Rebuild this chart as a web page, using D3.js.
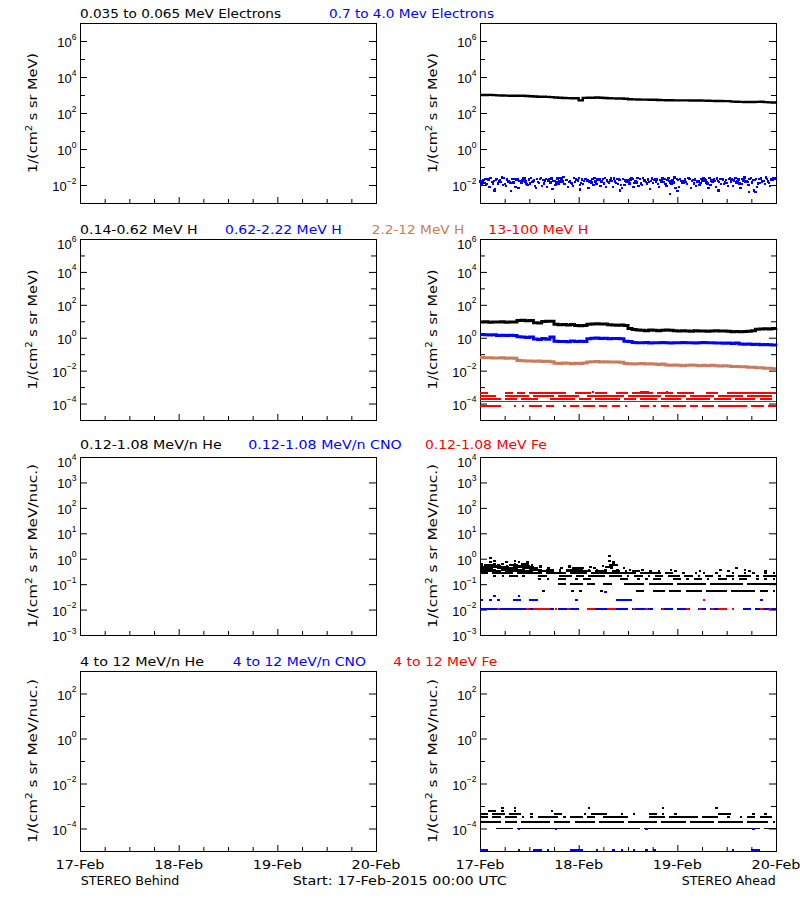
<!DOCTYPE html>
<html><head><meta charset="utf-8">
<script src="https://cdn.jsdelivr.net/npm/d3@7"></script>
<style>
body{margin:0;background:#fff}
svg{display:block}
text{font-family:"DejaVu Sans",sans-serif}
.num{font-family:"Liberation Sans",Arial,sans-serif}
</style>
</head><body>
<svg id="c" width="800" height="900"></svg>
<script>
// ---------------- DATA ----------------
const xTickHours = [0, 24, 48, 72];
const xTickLabels = ["17-Feb", "18-Feb", "19-Feb", "20-Feb"];
const xMinorHours = [6, 12, 18, 30, 36, 42, 54, 60, 66];

const titlesRow1 = ["0.035 to 0.065 MeV Electrons", "0.7 to 4.0 Mev Electrons"];
const titlesRow2 = ["0.14-0.62 MeV H", "0.62-2.22 MeV H", "2.2-12 MeV H", "13-100 MeV H"];
const titlesRow3 = ["0.12-1.08 MeV/n He", "0.12-1.08 MeV/n CNO", "0.12-1.08 MeV Fe"];
const titlesRow4 = ["4 to 12 MeV/n He", "4 to 12 MeV/n CNO", "4 to 12 MeV Fe"];
const seriesColors4 = ["#000000", "#0000ff", "#c87c5e", "#ff0000"];
const seriesColors3 = ["#000000", "#0000ff", "#ff0000"];

const yUnitsEnergy = "MeV)";
const yUnitsNuc = "MeV/nuc.)";
const footLeft = "STEREO Behind";
const footMid = "Start: 17-Feb-2015 00:00 UTC";
const footRight = "STEREO Ahead";

// Row 1 (Ahead) : 0.035-0.065 MeV electrons, hourly
const elecLow = [1000,1005,1010,990,950,930,920,915,910,905,900,880,860,
  820,800,795,790,760,720,700,680,670,660,655,
  500,
  690,700,710,720,700,680,665,650,645,640,620,
  580,570,560,555,550,545,540,530,520,515,510,505,
  500,500,500,498,495,492,490,480,470,465,460,458,455,
  430,420,415,410,408,405,415,425,400,390,380,375];
// 0.7-4.0 MeV electrons, four samples per hour
const elecHighA = [0.016,0.013,0.019,0.012,0.022,0.015,0.011,0.017,0.014,0.020,0.013,0.016,0.012,0.018,0.015,0.009,0.021,0.014,0.017,0.012,0.016,0.019,0.013,0.015,0.024,0.011,0.018,0.014,0.016,0.020,0.012,0.015,0.017,0.013,0.019,0.010,0.016,0.022,0.014,0.012,0.018,0.015,0.013,0.020,0.016,0.011,0.017,0.014,0.019,0.013,0.015,0.021,0.012,0.016,0.018,0.014,0.010,0.017,0.015,0.020,0.013,0.016,0.024,0.012,0.018,0.015,0.014,0.021,0.013,0.017,0.016,0.019];
const elecHighB = [0.010,0.021,0.008,0.017,0.012,0.026,0.009,0.014,0.022,0.007,0.018,0.011,0.025,0.009,0.013,0.019,0.008,0.023,0.010,0.016,0.027,0.008,0.012,0.020,0.010,0.017,0.007,0.022,0.011,0.009,0.025,0.013,0.008,0.021,0.010,0.018,0.012,0.008,0.024,0.010,0.015,0.006,0.019,0.011,0.023,0.009,0.014,0.026,0.008,0.017,0.011,0.007,0.020,0.010,0.025,0.012,0.018,0.008,0.022,0.011,0.009,0.020,0.014,0.007,0.026,0.010,0.019,0.008,0.023,0.011,0.013,0.024];
const elecHighC = [0.014,0.011,0.024,0.006,0.016,0.010,0.020,0.013,0.008,0.017,0.023,0.010,0.015,0.007,0.021,0.012,0.018,0.006,0.014,0.024,0.011,0.015,0.009,0.019,0.013,0.022,0.015,0.010,0.020,0.016,0.008,0.018,0.023,0.011,0.007,0.016,0.020,0.013,0.009,0.025,0.012,0.017,0.022,0.008,0.015,0.019,0.011,0.007,0.021,0.014,0.024,0.017,0.009,0.013,0.020,0.007,0.016,0.023,0.011,0.014,0.021,0.009,0.017,0.011,0.015,0.022,0.005,0.012,0.016,0.026,0.009,0.021];
const elecHighD = [0.019,0.022,0.015,0.020,0.018,0.024,0.016,0.021,0.019,0.017,0.023,0.020,0.016,0.022,0.025,0.018,0.020,0.017,0.023,0.021,0.019,0.016,0.024,0.018,0.020,0.022,0.017,0.025,0.019,0.021,0.018,0.023,0.016,0.020,0.022,0.019,0.024,0.017,0.021,0.018,0.020,0.023,0.016,0.019,0.022,0.025,0.018,0.021,0.017,0.020,0.023,0.019,0.016,0.022,0.018,0.024,0.020,0.017,0.021,0.019,0.023,0.018,0.020,0.022,0.016,0.024,0.019,0.021,0.017,0.022,0.020,0.025];
const elecHighOutlierHours = [3.5, 7.5, 24.3, 34, 46.2, 48, 58, 65.5, 67];
const elecHighOutlierValues = [0.005, 0.0045, 0.0055, 0.005, 0.0032, 0.0045, 0.005, 0.004, 0.004];

// Row 2 (Ahead) : protons, hourly
const hLow = [9.0,9.3,8.8,9.1,8.9,9.2,8.7,9.0,9.1,
  11.2,11.6,10.9,11.3, 8.2,7.9, 9.6,10.2,10.0,
  6.6,6.1,6.4,6.0,6.3, 5.5,5.3,5.6, 6.6,6.9,7.1,6.8,6.9, 6.2,5.9,5.7,6.0,5.6,
  3.6,3.2, 2.9,2.8,2.7,2.9,2.8,2.7,2.8,2.9,2.8,2.7,
  2.6,2.7,2.6,2.5,2.7,2.6,2.6,2.5,2.6,2.7,2.6,2.6,2.5,
  2.3,2.4,2.3,2.4,2.5,2.7, 3.3,3.4,3.5,3.4,3.6,3.7];
const hMid = [1.55,1.5,1.45,1.5, 1.38,1.4,1.35,1.42,1.36, 1.15,1.1,1.05,1.12,
  0.85,0.78,0.9,0.82, 1.1,
  0.62,0.58,0.6,0.56,0.63,0.59,0.61,0.6,
  0.88,0.92,0.95,0.9,0.93,0.87,0.9,0.91,0.86, 0.62,0.58,
  0.51,0.49,0.5,0.52,0.48,0.5,0.49,0.51,0.5,0.48,0.5,0.49,0.51,0.5,0.49,0.48,0.5,0.51,0.49,0.5,0.48,
  0.47,0.46,0.48,0.45,0.47,
  0.42,0.4,0.41,0.39,0.4,0.38,0.39,0.37,0.36,0.35];
const hHigh = [0.062,0.06,0.061,0.058,0.059,0.06,0.057,0.058,0.056,
  0.042,0.04,0.038,0.039,0.037,0.038,0.036,0.037,0.035,
  0.028,0.027,0.029,0.028,0.026,0.028,0.027,0.029,
  0.034,0.035,0.036,0.034,0.035,0.034,0.033,0.034,0.032,
  0.027,0.026,0.025,0.026,0.027,0.025,0.026,0.025,0.024,0.025,
  0.022,0.021,0.022,0.021,0.02,0.021,0.022,0.021,0.02,0.021,0.02,0.021,0.02,0.019,0.02,
  0.019,0.018,0.018,0.017,0.017,0.016,0.016,0.015,0.015,0.014,0.014,0.013,0.013];
// 13-100 MeV H : quantized levels, one character per hour ('#' = sample present)
const hVeryHighLevels = [5.3e-4, 4.2e-4, 2.9e-4, 1.95e-4, 6.8e-5];
const hVeryHighHours = [
  "...........................#...........##....#..........................",
  "##....##.##.#########..####.###..###.#####.####.####...###..############",
  "####..######.#####.#####..#########.########.#####.######.######.######.",
  "#####.###.####...######.###.######.###.####.#####.######.####.#####.###.",
  "#####...#.#.###.##..#.##.###.##.##.#...##.#.##.###.##.###.#######.###.##"];
const hVeryHighFloor = 1.4e-4;
const hVeryHighFloorHours = "########################################################################";

// Row 3 (Ahead) : 0.12-1.08 MeV/n
const heLowLevels = [0.0525,0.105,0.1575,0.21,0.2625,0.315,0.3675,0.42,0.4725,0.525,0.5775,0.63,0.735,0.84,1.1,1.26];
const heLowHours = [
  "...............#......#.#....#........##..###.###.####.#####.######.##.#",
  "...................##.###.##..##...#####.######.#######.########.#######",
  "..............#.#..##..#.##.......##..#.#.##...##.#.##.#..##.#.##..#.#.#",
  "...#.#.##.#...##...###.##.####.###.#.##.#.##.###.##.#.##.#.##.###.#.###",
  "##.#####.######.#####.####.###########.#####.##..#..#.#..#...#..#.#..#.#",
  "#####.#######.####.#.######.###.##.#.##..#.#...#.....#......#....#...#..",
  "####.######.###.##.#.####.#.#.#..#..#..#......#...........#.....#.......",
  "###.#####.####..#..#..###..#...#..#..........................#.........",
  "##.####.#####.#......#....#...##.......................................",
  "#.###.#.####..#......#.......#.#.......................................",
  ".##.#..##.#.#..................##......................................",
  "#..#.#..#.##....................#.......................................",
  "..#...#..#.#....................#.......................................",
  "...#....#......................#........................................",
  "..#.....................................................................",
  "...............................#........................................"];
const cnoLowLevels = [0.0105, 0.023, 0.035, 0.05];
const cnoLowHours = [
  "##################.#####..##########.#####..###.###..##.####.#..##.#####",
  "#.#.#...##..##.........#.........####...............................#...",
  "...#.....#..............................................................",
  "..............................#........................................."];
const feLowLevels = [0.0105, 0.023];
const feLowHours = [
  "....#......#.####.#..#....##...##....#..#...#.....#..#..#.##.#......#.#.",
  "......................................................#................."];

// Row 4 (Ahead) : 4-12 MeV/n
const heHighLevels = [1.9e-4, 3.1e-4, 4.6e-4, 6.0e-4, 8.0e-4];
const heHighHours = [
  "#####.###.#######.####.#####.######.#######.######.######.######.#####.#",
  "##.##.###.#.#.#####.#.###.##..######.....####.#######.####..#..#.##.###.",
  "##.###.###..#.....##.....#.####...#..#...##.#..#..........###.....#..#..",
  "..##.#..#........#......................................................",
  ".....#..#.................#.................#............#.............."];
const heHighFloor = 1.0e-4;
const heHighFloorHours = "....####.##############################.############################.###";
const cnoHighLevels = [1.1e-5, 1.0e-4];
const cnoHighHours = [
  "##.......#...##.#.....###...#...#.#..#..#.#..................#....##....",
  ".........#........#.....................#.........................#....."];

// ---------------- LAYOUT ----------------
const svg = d3.select("#c");
const cols = [[80, 376], [480, 776]];
const rows = [
  {top: 23, bottom: 203, dom: [1e-3, 1e7], major: [1e-2, 1, 1e2, 1e4, 1e6], exps: ["\u22122","0","2","4","6"], minor: [1e-1, 1e1, 1e3, 1e5], unit: yUnitsEnergy, tY: 17.5,
   titles: titlesRow1, colors: seriesColors4, tx: [[80, 201], [329, 165]], labLen: 120},
  {top: 239, bottom: 420, dom: [1e-5, 1e6], major: [1e-4, 1e-2, 1, 1e2, 1e4, 1e6], exps: ["\u22124","\u22122","0","2","4","6"], minor: [1e-3, 1e-1, 1e1, 1e3, 1e5], unit: yUnitsEnergy, tY: 233.5,
   titles: titlesRow2, colors: seriesColors4, tx: [[80, 117.7], [225, 116.7], [371.7, 92.6], [488.3, 100]], labLen: 120},
  {top: 457, bottom: 635, dom: [1e-3, 1e4], major: [1e-3, 1e-2, 1e-1, 1, 1e1, 1e2, 1e3, 1e4], exps: ["\u22123","\u22122","\u22121","0","1","2","3","4"], minor: [], unit: yUnitsNuc, tY: 449,
   titles: titlesRow3, colors: seriesColors3, tx: [[80, 141.7], [248.3, 153.5], [425, 121.7]], labLen: 164},
  {top: 671, bottom: 851, dom: [1e-5, 1e3], major: [1e-4, 1e-2, 1, 1e2], exps: ["\u22124","\u22122","0","2"], minor: [1e-3, 1e-1, 1e1], unit: yUnitsNuc, tY: 666,
   titles: titlesRow4, colors: seriesColors3, tx: [[80, 124], [232.7, 133.3], [393.3, 104]], labLen: 164}
];

function drawPattern(g, x, y, value, pattern, color, h) {
  const N = pattern.length, step = 72 / N, cy = y(value);
  let i = 0;
  while (i < N) {
    if (pattern[i] !== "#") { i++; continue; }
    let j = i;
    while (j + 1 < N && pattern[j + 1] === "#") j++;
    let xa = x(i * step), xb = x((j + 1) * step);
    if (j === i) { const c = (xa + xb) / 2; xa = c - 1.3; xb = c + 1.3; }
    g.append("rect").attr("x", xa).attr("y", cy - h / 2).attr("width", xb - xa).attr("height", h)
      .attr("fill", color).attr("shape-rendering", "crispEdges");
    i = j + 1;
  }
}

const panels = [];
rows.forEach((r, ri) => {
  r.titles.forEach((t, k) => {
    svg.append("text").attr("x", r.tx[k][0]).attr("y", r.tY).attr("font-size", 12.5)
      .attr("fill", r.colors[k]).attr("textLength", r.tx[k][1]).attr("lengthAdjust", "spacingAndGlyphs").text(t);
  });
  cols.forEach((c, ci) => {
    const x = d3.scaleLinear().domain([0, 72]).range(c);
    const y = d3.scaleLog().domain(r.dom).range([r.bottom, r.top]);
    const g = svg.append("g");
    panels.push({ri, ci, x, y, g});
    const bt = Math.round(r.top), bb = Math.round(r.bottom);
    g.append("rect").attr("x", c[0] + 0.5).attr("y", bt + 0.5).attr("width", c[1] - c[0]).attr("height", bb - bt)
      .attr("fill", "none").attr("stroke", "#000").attr("stroke-width", 1);
    g.append("g").attr("transform", `translate(${c[0]},0)`)
      .call(d3.axisLeft(y).tickValues(r.major).tickSize(-7).tickFormat(""));
    g.append("g").attr("transform", `translate(${c[1]},0)`)
      .call(d3.axisRight(y).tickValues(r.major).tickSize(-7).tickFormat(""));
    if (r.minor.length) {
      g.append("g").attr("transform", `translate(${c[0]},0)`)
        .call(d3.axisLeft(y).tickValues(r.minor).tickSize(-5).tickFormat(""));
      g.append("g").attr("transform", `translate(${c[1]},0)`)
        .call(d3.axisRight(y).tickValues(r.minor).tickSize(-5).tickFormat(""));
    }
    g.append("g").attr("transform", `translate(0,${bb})`)
      .call(d3.axisBottom(x).tickValues(xTickHours).tickSize(-6).tickFormat(""));
    g.append("g").attr("transform", `translate(0,${bb})`)
      .call(d3.axisBottom(x).tickValues(xMinorHours).tickSize(-4).tickFormat(""));
    g.selectAll(".domain").remove();
    g.selectAll(".tick line").attr("stroke", "#000");
    r.major.forEach((v, k) => {
      const base = Math.max(y(v) + 6, r.top + 10);
      const t = g.append("text").attr("class", "num").attr("x", c[0] - 3.5).attr("y", base)
        .attr("text-anchor", "end").attr("font-size", 13).attr("fill", "#000");
      t.append("tspan").text("10");
      t.append("tspan").attr("dy", -7.5).attr("font-size", 8.5).text(r.exps[k]);
    });
    const cy = (r.top + r.bottom) / 2;
    const yt = g.append("text").attr("transform", `translate(${c[0] - 43},${cy}) rotate(-90)`)
      .attr("text-anchor", "middle").attr("font-size", 13).attr("fill", "#000")
      .attr("textLength", r.labLen).attr("lengthAdjust", "spacingAndGlyphs");
    yt.append("tspan").text("1/(cm");
    yt.append("tspan").attr("dy", -5).attr("font-size", 9).text("2");
    yt.append("tspan").attr("dy", 5).text(" s sr " + r.unit);
    if (ri === 3) {
      xTickHours.forEach((h, k) => {
        g.append("text").attr("x", x(h)).attr("y", 869).attr("text-anchor", "middle").attr("font-size", 12.5)
          .attr("textLength", 49).attr("lengthAdjust", "spacingAndGlyphs").text(xTickLabels[k]);
      });
    }
  });
});

function panel(ri, ci) { return panels.find(p => p.ri === ri && p.ci === ci); }

// ---- Row 1 data (Ahead)
{
  const {x, y, g} = panel(0, 1);
  [[elecHighA, 0.1], [elecHighB, 0.35], [elecHighC, 0.6], [elecHighD, 0.85]].forEach(([arr, off]) => {
    arr.forEach((v, i) => {
      g.append("rect").attr("x", x(i + off) - 1.2).attr("y", y(v) - 1.2).attr("width", 2.4).attr("height", 2.4)
        .attr("fill", "#0000ff").attr("shape-rendering", "crispEdges");
    });
  });
  elecHighOutlierHours.forEach((h, i) => {
    g.append("rect").attr("x", x(h) - 1.2).attr("y", y(elecHighOutlierValues[i]) - 1.2).attr("width", 2.4).attr("height", 2.4)
      .attr("fill", "#0000ff").attr("shape-rendering", "crispEdges");
  });
  g.append("path").datum(elecLow).attr("fill", "none").attr("stroke", "#000").attr("stroke-width", 2.4)
    .attr("d", d3.line().x((d, i) => x(i)).y(d => y(d)).curve(d3.curveStepAfter));
}
// ---- Row 2 data (Ahead)
{
  const {x, y, g} = panel(1, 1);
  [[hLow, seriesColors4[0]], [hMid, seriesColors4[1]], [hHigh, seriesColors4[2]]].forEach(([arr, col]) => {
    g.append("path").datum(arr).attr("fill", "none").attr("stroke", col).attr("stroke-width", 3)
      .attr("d", d3.line().x((d, i) => x(Math.min(i, 72))).y(d => y(d)).curve(d3.curveStepAfter));
  });
  hVeryHighLevels.forEach((v, k) => drawPattern(g, x, y, v, hVeryHighHours[k], seriesColors4[3], 2));
  drawPattern(g, x, y, hVeryHighFloor, hVeryHighFloorHours, seriesColors4[3], 1);
}
// ---- Row 3 data (Ahead)
{
  const {x, y, g} = panel(2, 1);
  heLowLevels.forEach((v, k) => drawPattern(g, x, y, v, heLowHours[k], "#000", 2));
  cnoLowLevels.forEach((v, k) => drawPattern(g, x, y, v, cnoLowHours[k], "#0000ff", 2));
  feLowLevels.forEach((v, k) => drawPattern(g, x, y, v, feLowHours[k], "#ff0000", 2));
}
// ---- Row 4 data (Ahead)
{
  const {x, y, g} = panel(3, 1);
  heHighLevels.forEach((v, k) => drawPattern(g, x, y, v, heHighHours[k], "#000", 2));
  drawPattern(g, x, y, heHighFloor, heHighFloorHours, "#000", 1);
  cnoHighLevels.forEach((v, k) => drawPattern(g, x, y, v, cnoHighHours[k], "#0000ff", 2));
}

// footer
svg.append("text").attr("x", 80.7).attr("y", 885).attr("font-size", 12.5).attr("textLength", 98.6).attr("lengthAdjust", "spacingAndGlyphs").text(footLeft);
svg.append("text").attr("x", 292.7).attr("y", 885).attr("font-size", 12.5).attr("textLength", 214).attr("lengthAdjust", "spacingAndGlyphs").text(footMid);
svg.append("text").attr("x", 681.7).attr("y", 885).attr("font-size", 12.5).attr("textLength", 94).attr("lengthAdjust", "spacingAndGlyphs").text(footRight);
</script>
</body></html>
